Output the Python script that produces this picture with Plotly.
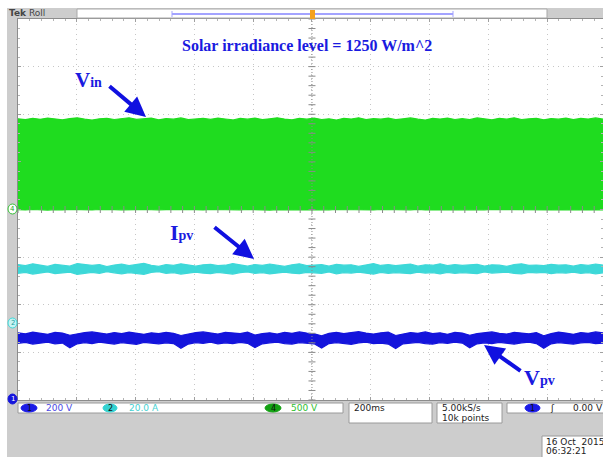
import numpy as np
import plotly.graph_objects as go

# ---------------- data (physical units) ----------------
# Channel 4 : Vin (500 V/div) - envelope of the switching waveform
vin_upper = [952, 944, 957, 947, 960, 949, 941, 955, 962, 948, 939, 953, 958, 945, 954, 963, 946, 950, 959, 942,
             955, 948, 961, 943, 952, 958, 946, 960, 950, 940, 956, 948, 959, 944, 953, 962, 949, 942, 957, 948,
             960, 945, 952, 940, 958, 950, 963, 944, 954, 948, 959, 943, 952, 961, 948, 939, 956, 950, 960, 945,
             954, 943, 961, 950, 941, 957, 948, 962, 945, 952, 958, 942, 955, 948, 960, 944, 956, 950, 961, 948]
vin_lower = [-2, -5, 0, -3, -6, -1, -4, 1, -3, -2, -5, 0, -4, -1, -3, -6, -2, 0, -4, -3,
             -1, -5, -2, 1, -3, -4, 0, -2, -5, -1, -3, 0, -4, -2, -6, -1, -3, -2, 0, -4,
             -1, -5, -3, 0, -2, -4, -1, -3, -5, 0, -2, -4, -1, -3, 1, -5, -2, -3, 0, -4,
             -1, -2, -5, -3, 0, -4, -2, -1, -3, -5, 0, -2, -4, -1, -3, -2, 0, -4, -1, -3]
# Channel 2 : Ipv (20 A/div)
ipv_upper = [24.9, 24.4, 25.2, 24.6, 24.1, 25.0, 24.7, 24.2, 25.3, 24.8, 24.5, 24.9, 24.0, 24.7, 25.1, 24.4, 24.8, 25.4, 24.6, 24.1,
             24.9, 24.5, 25.2, 24.7, 24.2, 24.8, 25.0, 24.4, 24.6, 25.3, 24.7, 24.2, 24.9, 24.5, 25.1, 24.6, 24.1, 24.8, 25.2, 24.4,
             24.7, 24.9, 24.2, 25.0, 24.6, 24.8, 24.1, 24.7, 25.3, 24.5, 24.9, 24.4, 24.7, 25.1, 24.2, 24.8, 24.6, 25.2, 24.4, 24.9,
             24.5, 24.7, 25.0, 24.2, 24.8, 24.6, 24.1, 24.9, 25.2, 24.5, 24.7, 24.4, 25.0, 24.6, 24.8, 24.2, 24.9, 24.5, 25.1, 24.7]
ipv_lower = [21.2, 21.6, 20.9, 21.5, 21.8, 21.1, 21.4, 21.7, 20.8, 21.3, 21.6, 21.2, 21.9, 21.4, 21.0, 21.5, 21.3, 20.8, 21.6, 21.9,
             21.2, 21.5, 20.9, 21.4, 21.7, 21.3, 21.1, 21.6, 21.4, 20.9, 21.5, 21.8, 21.2, 21.5, 21.0, 21.4, 21.7, 21.3, 21.1, 21.6,
             21.4, 21.2, 21.8, 21.0, 21.5, 21.3, 21.7, 21.4, 20.9, 21.6, 21.2, 21.5, 21.4, 21.1, 21.7, 21.3, 21.5, 21.0, 21.6, 21.2,
             21.5, 21.4, 21.1, 21.8, 21.3, 21.5, 21.7, 21.2, 21.0, 21.6, 21.4, 21.6, 21.1, 21.5, 21.3, 21.7, 21.2, 21.5, 21.0, 21.4]
# Channel 1 : Vpv (200 V/div)
vpv_upper = [282, 278, 285, 280, 276, 284, 281, 272, 279, 283, 286, 280, 277, 283, 279, 285, 281, 276, 282, 279,
             284, 280, 271, 278, 283, 286, 280, 277, 284, 281, 279, 285, 273, 279, 282, 277, 284, 280, 286, 281,
             278, 270, 280, 284, 279, 283, 287, 281, 277, 282, 285, 271, 278, 283, 280, 286, 279, 282, 276, 284,
             281, 272, 279, 283, 286, 280, 277, 284, 281, 278, 283, 270, 279, 285, 281, 276, 283, 280, 286, 282]
vpv_lower = [238, 242, 235, 240, 243, 236, 239, 219, 236, 241, 237, 243, 240, 235, 241, 238, 234, 242, 239, 236,
             240, 237, 217, 235, 241, 238, 243, 236, 240, 237, 242, 238, 220, 236, 240, 243, 237, 235, 241, 238,
             236, 218, 237, 241, 238, 234, 240, 243, 237, 239, 235, 216, 236, 240, 242, 237, 235, 241, 238, 243,
             239, 219, 236, 240, 237, 242, 238, 235, 240, 243, 237, 217, 236, 241, 238, 235, 240, 242, 237, 239]

title_text = "Solar irradiance level = 1250 W/m^2"
channel_names = ["1", "2", "4"]
channel_scales = ["200 V", "20.0 A", "500 V"]
timebase = "200ms"
sample_rate = "5.00kS/s"
record_length = "10k points"
trigger_level = "0.00 V"
date_text = "16 Oct  2015"
clock_text = "06:32:21"

# vertical scale (units/div) and ground offset (div) for each channel
CH4_SCALE, CH4_OFF = 500.0, 0.0
CH2_SCALE, CH2_OFF = 20.0, -2.4
CH1_SCALE, CH1_OFF = 200.0, -4.0
X_END = 1990.0  # visible part of the 10 div x 200 ms record

# ---------------- layout geometry (screen pixels, figure placed at page origin) ----------------
FW, FH = 603, 457
L, T, R, B = 18, 19, 603, 400          # plot area on screen
PW, PH = R - L, B - T


def px(x):
    return (x - L) / PW


def py(y):
    return (B - y) / PH


GREEN = "#1fdc1f"
CYAN = "#3dd8d8"
BLUE = "#1414dc"
LABEL_BLUE = "#1a1ae0"
SERIF = "Liberation Serif, Times New Roman, serif"
SANS = "DejaVu Sans, Arial, sans-serif"

fig = go.Figure()


def band(upper, lower, scale, off, color):
    t = np.linspace(0, X_END, len(upper))
    yu = off + np.asarray(upper, dtype=float) / scale
    yl = off + np.asarray(lower, dtype=float) / scale
    fig.add_trace(go.Scatter(x=t, y=yu, mode="lines", line=dict(color=color, width=1.2),
                             hoverinfo="skip", showlegend=False))
    fig.add_trace(go.Scatter(x=t, y=yl, mode="lines", line=dict(color=color, width=1.2),
                             fill="tonexty", fillcolor=color, hoverinfo="skip", showlegend=False))


band(vin_upper, vin_lower, CH4_SCALE, CH4_OFF, GREEN)
band(ipv_upper, ipv_lower, CH2_SCALE, CH2_OFF, CYAN)
band(vpv_upper, vpv_lower, CH1_SCALE, CH1_OFF, BLUE)

# centre cross of the graticule with its minor ticks (drawn over the traces)
ytk = np.arange(-4, 4.0001, 0.2)
xtk = np.arange(0, X_END, 40)
fig.add_trace(go.Scatter(x=[1000, 1000], y=[-4, 4], mode="lines",
                         line=dict(color="#8a8a8a", width=1, dash="1px,2px"),
                         hoverinfo="skip", showlegend=False))
fig.add_trace(go.Scatter(x=np.full(len(ytk), 1000.0), y=ytk, mode="markers",
                         marker=dict(symbol="line-ew", size=5, line=dict(width=1, color="#8a8a8a")),
                         hoverinfo="skip", showlegend=False))
fig.add_trace(go.Scatter(x=xtk, y=np.zeros(len(xtk)), mode="markers",
                         marker=dict(symbol="line-ns", size=5, line=dict(width=1, color="#8a8a8a")),
                         hoverinfo="skip", showlegend=False))

axis_common = dict(showgrid=True, gridcolor="#c6c6c6", griddash="1px,4px", gridwidth=1,
                   zeroline=False, showticklabels=False, ticks="inside", ticklen=3,
                   tickcolor="#a0a0a0", showline=True, linecolor="#8c8c8c", linewidth=1,
                   mirror="ticks", fixedrange=True)
fig.update_xaxes(range=[0, X_END], tick0=0, dtick=200,
                 minor=dict(dtick=40, ticks="inside", ticklen=2, tickcolor="#b4b4b4", showgrid=False),
                 **axis_common)
fig.update_yaxes(range=[-4, 4], tick0=0, dtick=1,
                 minor=dict(dtick=0.2, ticks="inside", ticklen=2, tickcolor="#b4b4b4", showgrid=False),
                 **axis_common)

shapes = []


def rect(x0, y0, x1, y1, fill, line="rgba(0,0,0,0)", lw=1):
    shapes.append(dict(type="rect", xref="paper", yref="paper", x0=px(x0), x1=px(x1),
                       y0=py(y1), y1=py(y0), fillcolor=fill, line=dict(color=line, width=lw), layer="above"))


def ellipse(x0, y0, x1, y1, fill, line=None):
    shapes.append(dict(type="circle", xref="paper", yref="paper", x0=px(x0), x1=px(x1),
                       y0=py(y1), y1=py(y0), fillcolor=fill,
                       line=dict(color=line or fill, width=1), layer="above"))


def seg(x0, y0, x1, y1, color, w):
    shapes.append(dict(type="line", xref="paper", yref="paper", x0=px(x0), x1=px(x1),
                       y0=py(y0), y1=py(y1), line=dict(color=color, width=w), layer="above"))


annots = []


def text(x, y, s, size=9, color="#222", family=SANS, xanchor="left", yanchor="middle"):
    annots.append(dict(xref="paper", yref="paper", x=px(x), y=py(y), text=s, showarrow=False,
                       xanchor=xanchor, yanchor=yanchor, font=dict(size=size, color=color, family=family),
                       borderpad=0))


# white border of the photograph (top and left)
rect(-2, -2, FW + 2, 8, "white")
rect(-2, -2, 7, FH + 2, "white")

# top status bar
rect(77, 9, 547, 18, "white", "#a9a9a9")
seg(172, 14, 453, 14, "#a3a3ff", 2)
seg(172, 11, 172, 17, "#a3a3ff", 1)
seg(453, 11, 453, 17, "#a3a3ff", 1)
rect(310, 10, 315, 19, "#f5a21e")
text(8, 13.5, "<b>Tek</b> Roll", size=9, color="#444")

# channel ground markers at the left
ellipse(8, 204, 17, 214, "white", "#35c035")
text(12.5, 209, "4", size=7, color="#25a025", xanchor="center")
ellipse(8, 318, 17, 328, "#c8f4f4", CYAN)
text(12.5, 323, "2", size=7, color="#20a0a0", xanchor="center")
ellipse(8, 394, 17, 404, BLUE)
text(12.5, 399, "1", size=7, color="white", xanchor="center")

# bottom read-outs
rect(18, 403, 343, 413, "white", "#9a9a9a")
ellipse(21, 404, 37, 412, "#1a1ae6")
text(29, 408, channel_names[0], size=8, color="#111", xanchor="center")
text(45, 408, channel_scales[0], color="#4a4ae6")
ellipse(103, 404, 117, 412, "#33d2d2")
text(110, 408, channel_names[1], size=8, color="#111", xanchor="center")
text(128, 408, channel_scales[1], color="#45d2d2")
ellipse(265, 404, 281, 412, "#12a012")
text(273, 408, channel_names[2], size=8, color="#111", xanchor="center")
text(290, 408, channel_scales[2], color="#30c030")

rect(349, 403, 432, 423, "white", "#9a9a9a")
text(353, 408, timebase)
rect(437, 403, 502, 423, "white", "#9a9a9a")
text(441, 408, sample_rate)
text(441, 418, record_length)
rect(507, 403, 612, 413, "white", "#9a9a9a")
ellipse(525, 404, 540, 412, "#1a1ae6")
text(532.5, 408, channel_names[0], size=8, color="#111", xanchor="center")
text(549, 408, "ʃ", size=9, color="#222")
text(572, 408, trigger_level)
rect(542, 436, 612, 462, "white", "#9a9a9a")
text(545, 442, date_text)
text(545, 451, clock_text)

# title and signal labels
text(307, 46, "<b>" + title_text + "</b>", size=16, color=LABEL_BLUE, family=SERIF, xanchor="center")
text(74, 80, '<b>V<span style="font-size:14px">in</span></b>', size=21, color=LABEL_BLUE, family=SERIF)
text(169, 232.5, '<b>I<span style="font-size:14px">pv</span></b>', size=22, color=LABEL_BLUE, family=SERIF)
text(523, 377.5, '<b>V<span style="font-size:14px">pv</span></b>', size=22, color=LABEL_BLUE, family=SERIF)


def arrow(hx, hy, tx, ty):
    annots.append(dict(xref="paper", yref="paper", x=px(hx), y=py(hy), ax=tx - hx, ay=ty - hy,
                       text="", showarrow=True, arrowhead=2, arrowsize=1.0, arrowwidth=4,
                       arrowcolor="#1010e0", standoff=0, startstandoff=0))


arrow(146, 117, 108, 85)
arrow(254, 259, 213, 226)
arrow(484, 345, 522, 372)

fig.update_layout(width=FW, height=FH, autosize=False,
                  margin=dict(l=L, r=FW - R, t=T, b=FH - B, pad=0),
                  paper_bgcolor="#cdcdcd", plot_bgcolor="white",
                  shapes=shapes, annotations=annots, showlegend=False)

fig.write_html("out.html", config=dict(displayModeBar=False),
               post_script="document.body.style.margin='0px';"
                           "document.documentElement.style.overflow='hidden';")
